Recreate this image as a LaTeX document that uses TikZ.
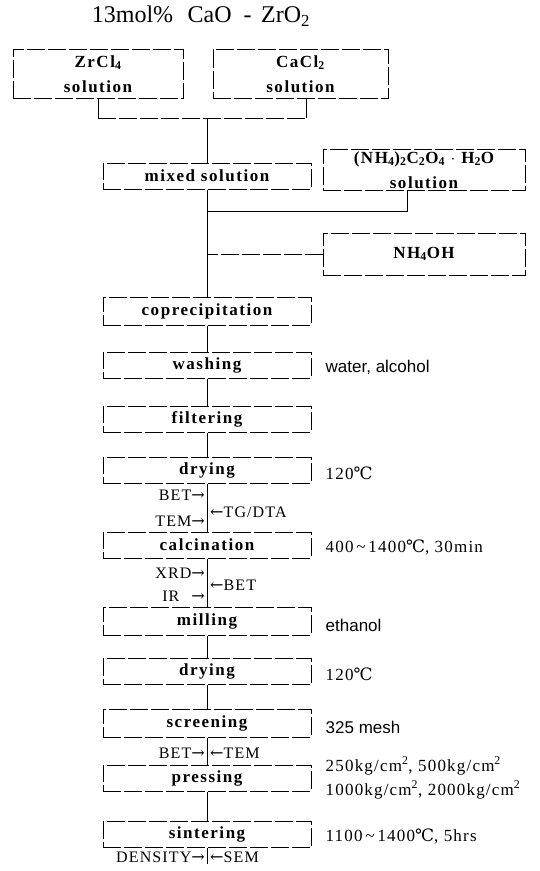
\documentclass[tikz,border=0pt]{standalone}
\usepackage{fontspec}
\setmainfont{Liberation Serif}
\newfontfamily\boxfont[LetterSpace=9]{Liberation Serif}
\newfontfamily\annfont[LetterSpace=7]{Liberation Serif}
\newfontfamily\sansfnt{Liberation Sans}
\newfontfamily\dvs{DejaVu Serif}
\newcommand{\degC}{{\dvs ℃}}
\newcommand{\rar}{{\dvs →}}
\newcommand{\lar}{{\dvs ←}}
\begin{document}
\begin{tikzpicture}[x=1pt,y=-1pt,
  box/.style={draw, line width=1pt, dash pattern=on 18pt off 3pt, minimum width=208pt, minimum height=26pt, inner sep=0pt, align=center, font=\boxfont\bfseries\fontsize{17}{25}\selectfont},
  conn/.style={line width=1pt},
  dconn/.style={line width=1pt, dash pattern=on 18pt off 3pt},
  lbl/.style={inner sep=0pt, font=\annfont\fontsize{16}{18}\selectfont},
  ann/.style={inner sep=0pt, anchor=west, align=left, font=\annfont\fontsize{17}{24}\selectfont},
  sann/.style={inner sep=0pt, anchor=west, font=\sansfnt\fontsize{17}{20}\selectfont}]
\useasboundingbox (0,0) rectangle (539,871);

\node[inner sep=0pt, font=\fontsize{24}{26}\selectfont] (title) at (201,16) {13mol\%\hspace{0.6em}CaO\hspace{0.5em}-\hspace{0.4em}ZrO\textsubscript{2}};

\node[box, minimum width=170pt, minimum height=49pt] (zr) at (98,74) {ZrCl\textsubscript{4}\\solution};
\node[box, minimum width=175pt, minimum height=49pt] (ca) at (300.5,74) {CaCl\textsubscript{2}\\solution};
\coordinate (jm) at (207,118);
\draw[conn] (zr.south) -- (zr.south |- jm);
\draw[conn] ([xshift=6pt]ca.south) -- ([xshift=6pt]ca.south |- jm);
\draw[dconn] (zr.south |- jm) -- ([xshift=6pt]ca.south |- jm);

\node[box] (mix) at (207,176) {mixed solution};
\draw[conn] (jm) -- (mix.north);

\node[box, minimum width=202pt, minimum height=41pt] (nox) at (424,170) {(NH\textsubscript{4})\textsubscript{2}C\textsubscript{2}O\textsubscript{4} $\cdot$ H\textsubscript{2}O\\solution};
\node[box, minimum width=202pt, minimum height=42pt] (noh) at (424,254) {NH\textsubscript{4}OH};

\node[box, minimum height=28pt] (cop) at (207,311) {coprecipitation};
\coordinate (j2) at (207,211);
\draw[conn] (mix.south) -- (cop.north);
\draw[conn] ([xshift=-17pt]nox.south) |- (j2);
\draw[dconn] (noh.west) -- (noh.west -| mix.south);

\node[box] (wash) at (207,365) {washing};
\node[box] (filt) at (207,419) {filtering};
\node[box] (dry1) at (207,470) {drying};
\node[box] (calc) at (207,545) {calcination};
\node[box, minimum height=28pt] (mill) at (207,621) {milling};
\node[box] (dry2) at (207,671.5) {drying};
\node[box, minimum height=28pt] (scr) at (207,723) {screening};
\node[box] (press) at (207,778) {pressing};
\node[box] (sint) at (207,834.5) {sintering};
\coordinate (endc) at (207,864);

\draw[conn] (cop.south) -- (wash.north);
\draw[conn] (wash.south) -- (filt.north);
\draw[conn] (filt.south) -- (dry1.north);
\draw[conn] (dry1.south) -- (calc.north);
\draw[conn] (calc.south) -- (mill.north);
\draw[conn] (mill.south) -- (dry2.north);
\draw[conn] (dry2.south) -- (scr.north);
\draw[conn] (scr.south) -- (press.north);
\draw[conn] (press.south) -- (sint.north);
\draw[conn] (sint.south) -- (endc);

% side labels
\node[lbl, anchor=east] (bet1) at (205,495) {BET\rar};
\node[lbl, anchor=east] (tem1) at (205,521) {TEM\rar};
\node[lbl, anchor=west] (tg) at (210,512) {\lar TG/DTA};
\node[lbl, anchor=east] (xrd) at (205,573) {XRD\rar};
\node[lbl, anchor=east] (ir) at (205,596) {IR\hspace{12pt}\rar};
\node[lbl, anchor=west] (bet2) at (210,585) {\lar BET};
\node[lbl, anchor=east] (bet3) at (205,753) {BET\rar};
\node[lbl, anchor=west] (tem2) at (210,753) {\lar TEM};
\node[lbl, anchor=east] (dens) at (205,857) {DENSITY\rar};
\node[lbl, anchor=west] (sem) at (210,857) {\lar SEM};

% right annotations
\node[sann] (a1) at ([xshift=14pt, yshift=-2pt]wash.east) {water, alcohol};
\node[ann] (a2) at ([xshift=14pt, yshift=-3pt]dry1.east) {120\degC};
\node[ann] (a3) at ([xshift=14pt, yshift=-2pt]calc.east) {400\,\textasciitilde\,1400\degC, 30min};
\node[sann] (a4) at ([xshift=14pt, yshift=-4pt]mill.east) {ethanol};
\node[ann] (a5) at ([xshift=14pt, yshift=-3pt]dry2.east) {120\degC};
\node[sann] (a6) at ([xshift=14pt, yshift=-4pt]scr.east) {325 mesh};
\node[ann] (a7) at ([xshift=14pt]press.east) {250kg/cm\textsuperscript{2}, 500kg/cm\textsuperscript{2}\\1000kg/cm\textsuperscript{2}, 2000kg/cm\textsuperscript{2}};
\node[ann] (a8) at ([xshift=14pt, yshift=-2pt]sint.east) {1100\,\textasciitilde\,1400\degC, 5hrs};
\end{tikzpicture}
\end{document}
